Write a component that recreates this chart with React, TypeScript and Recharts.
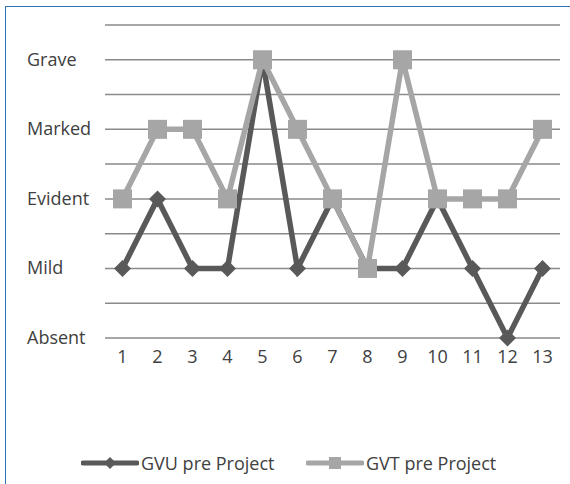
import React from 'react';
import { LineChart, Line, XAxis, YAxis, CartesianGrid, Legend } from 'recharts';

const categories = ['1', '2', '3', '4', '5', '6', '7', '8', '9', '10', '11', '12', '13'];
const gvuPre = [1, 2, 1, 1, 4, 1, 2, 1, 1, 2, 1, 0, 1];
const gvtPre = [2, 3, 3, 2, 4, 3, 2, 1, 4, 2, 2, 2, 3];
const levelLabels = ['Absent', 'Mild', 'Evident', 'Marked', 'Grave'];
const yTicks = [0, 0.5, 1, 1.5, 2, 2.5, 3, 3.5, 4, 4.5];

const data = categories.map((c, i) => ({ cat: c, gvu: gvuPre[i], gvt: gvtPre[i] }));

const DARK = '#595959';
const LIGHT = '#a6a6a6';
const TEXT = '#404040';
const FONT = '"Open Sans", sans-serif';
const FS = 18;

const YTick = (props: any) => {
  const { y, payload } = props;
  const v = payload.value;
  if (!Number.isInteger(v)) return null;
  return (
    <text x={27} y={y} dy={6} textAnchor="start" fill={TEXT} fontSize={FS} fontFamily={FONT}>
      {levelLabels[v]}
    </text>
  );
};

const XTick = (props: any) => {
  const { x, y, payload } = props;
  return (
    <text x={x} y={y} dy={17} textAnchor="middle" fill={TEXT} fontSize={FS} fontFamily={FONT}>
      {payload.value}
    </text>
  );
};

const Diamond = (props: any) => {
  const { cx, cy } = props;
  if (cx == null || cy == null) return null;
  const r = 8.5;
  return <polygon points={`${cx},${cy - r} ${cx + r},${cy} ${cx},${cy + r} ${cx - r},${cy}`} fill={DARK} />;
};

const Square = (props: any) => {
  const { cx, cy } = props;
  if (cx == null || cy == null) return null;
  const s = 19;
  return <rect x={cx - s / 2} y={cy - s / 2} width={s} height={s} fill={LIGHT} />;
};

const LegendContent = () => {
  const item = (label: string, color: string, marker: 'd' | 's', left: number) => (
    <div style={{ position: 'absolute', left, top: 0, display: 'flex', alignItems: 'center' }}>
      <svg width={58} height={20}>
        <line x1={2} y1={10} x2={56} y2={10} stroke={color} strokeWidth={5} strokeLinecap="round" />
        {marker === 'd' ? (
          <polygon points="29,4 35,10 29,16 23,10" fill={color} />
        ) : (
          <rect x={23} y={4} width={12} height={12} fill={color} />
        )}
      </svg>
      <span style={{ fontFamily: FONT, fontSize: FS, color: TEXT, marginLeft: 2 }}>{label}</span>
    </div>
  );
  return (
    <div style={{ position: 'relative', width: 570, height: 24 }}>
      {item('GVU pre Project', DARK, 'd', 81)}
      {item('GVT pre Project', LIGHT, 's', 306)}
    </div>
  );
};

export default function App() {
  return (
    <div style={{ position: 'absolute', left: 0, top: 0, width: 570, height: 484, background: '#fff' }}>
      <div
        style={{
          position: 'absolute',
          left: 5,
          top: 6,
          width: 570,
          height: 490,
          borderLeft: '1.5px solid #2e75b6',
          borderTop: '1.5px solid #2e75b6',
        }}
      />
      <LineChart
        width={570}
        height={484}
        data={data}
        margin={{ top: 25, right: 10, left: 0, bottom: 116 }}
        style={{ position: 'absolute', left: 0, top: 0 }}
      >
        <CartesianGrid vertical={false} stroke="#8a8a8a" strokeWidth={1.5} />
        <XAxis
          dataKey="cat"
          height={30}
          axisLine={false}
          tickLine={false}
          interval={0}
          padding={{ left: 17.5, right: 17.5 }}
          tick={<XTick />}
        />
        <YAxis
          width={105}
          domain={[0, 4.5]}
          ticks={yTicks}
          axisLine={false}
          tickLine={false}
          tick={<YTick />}
          interval={0}
        />
        <Legend
          layout="horizontal"
          verticalAlign="middle"
          align="center"
          wrapperStyle={{ position: 'absolute', top: 451, left: 0, width: 570 }}
          content={<LegendContent />}
        />
        <Line
          type="linear"
          dataKey="gvu"
          name="GVU pre Project"
          stroke={DARK}
          strokeWidth={5.5}
          dot={<Diamond />}
          activeDot={false}
          isAnimationActive={false}
        />
        <Line
          type="linear"
          dataKey="gvt"
          name="GVT pre Project"
          stroke={LIGHT}
          strokeWidth={5.5}
          dot={<Square />}
          activeDot={false}
          isAnimationActive={false}
        />
      </LineChart>
    </div>
  );
}
